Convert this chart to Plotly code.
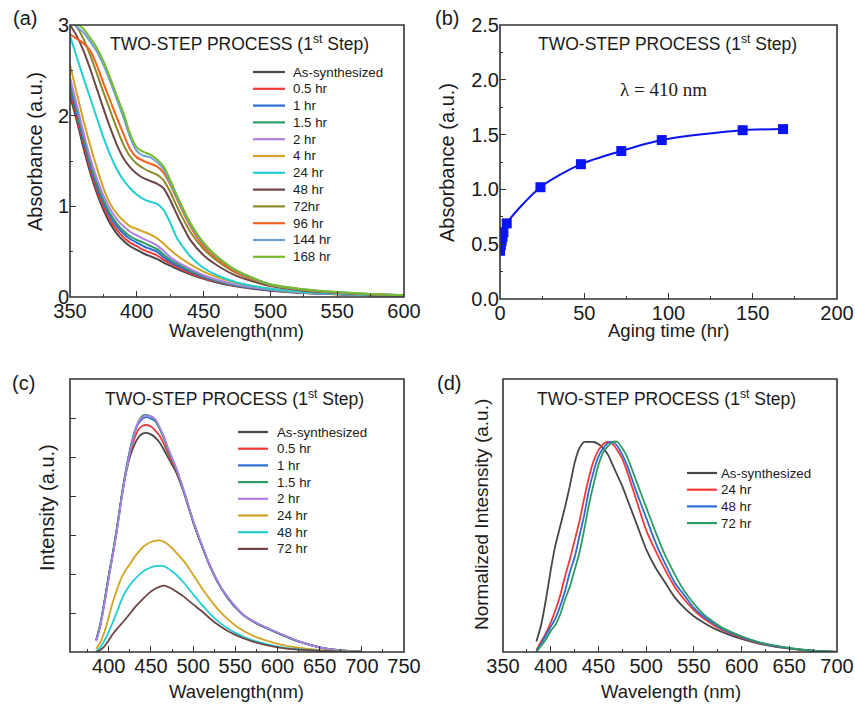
import plotly.graph_objects as go

# ---------------- (a) UV-vis absorbance spectra ----------------
WL_A = [350, 355, 360, 365, 370, 375, 380, 385, 390, 395, 400, 405, 410, 415,
        420, 425, 430, 440, 450, 460, 475, 500, 525, 550, 575, 600]

ABS_LABELS = ["As-synthesized", "0.5 hr", "1 hr", "1.5 hr", "2 hr", "4 hr",
              "24 hr", "48 hr", "72hr", "96 hr", "144 hr", "168 hr"]
ABS_COLORS = ["#474747", "#f03a3a", "#2c6cd6", "#2e9c62", "#ad7fe6", "#d3a322",
              "#22cdd2", "#6e4646", "#8a8a2c", "#f2621f", "#6fa0d8", "#74bd2a"]

abs_as_synth = [2.22, 1.95, 1.65, 1.38, 1.15, 0.96, 0.81, 0.70, 0.62, 0.56, 0.52, 0.48, 0.45, 0.42,
                0.38, 0.345, 0.31, 0.25, 0.20, 0.16, 0.115, 0.07, 0.045, 0.03, 0.02, 0.012]
abs_0p5h = [2.28, 2.00, 1.70, 1.42, 1.19, 1.00, 0.85, 0.74, 0.66, 0.60, 0.56, 0.52, 0.49, 0.46,
            0.41, 0.37, 0.33, 0.265, 0.21, 0.17, 0.12, 0.075, 0.047, 0.031, 0.02, 0.012]
abs_1h = [2.32, 2.04, 1.74, 1.46, 1.23, 1.04, 0.89, 0.78, 0.70, 0.64, 0.60, 0.56, 0.53, 0.50,
          0.44, 0.39, 0.35, 0.28, 0.22, 0.175, 0.125, 0.077, 0.048, 0.032, 0.021, 0.013]
abs_1p5h = [2.36, 2.07, 1.77, 1.49, 1.26, 1.07, 0.92, 0.81, 0.73, 0.67, 0.63, 0.60, 0.565, 0.53,
            0.47, 0.41, 0.37, 0.29, 0.23, 0.18, 0.13, 0.08, 0.05, 0.033, 0.021, 0.013]
abs_2h = [2.42, 2.12, 1.82, 1.54, 1.31, 1.12, 0.97, 0.86, 0.78, 0.72, 0.68, 0.64, 0.61, 0.57,
          0.51, 0.44, 0.39, 0.31, 0.24, 0.19, 0.135, 0.082, 0.051, 0.034, 0.022, 0.014]
abs_4h = [2.56, 2.25, 1.95, 1.68, 1.43, 1.20, 1.03, 0.92, 0.84, 0.78, 0.75, 0.72, 0.69, 0.65,
          0.59, 0.52, 0.46, 0.36, 0.28, 0.22, 0.155, 0.092, 0.056, 0.036, 0.023, 0.015]
abs_24h = [2.88, 2.65, 2.42, 2.20, 1.98, 1.76, 1.57, 1.41, 1.29, 1.20, 1.13, 1.08, 1.05, 1.03,
           0.96, 0.82, 0.65, 0.45, 0.32, 0.24, 0.16, 0.09, 0.055, 0.035, 0.022, 0.014]
abs_48h = [3.00, 2.88, 2.72, 2.52, 2.30, 2.08, 1.87, 1.68, 1.53, 1.43, 1.36, 1.31, 1.28, 1.25,
           1.20, 1.07, 0.91, 0.63, 0.46, 0.35, 0.23, 0.12, 0.07, 0.045, 0.028, 0.017]
abs_72h = [3.05, 2.98, 2.85, 2.67, 2.47, 2.26, 2.06, 1.86, 1.68, 1.55, 1.47, 1.42, 1.38, 1.35,
           1.29, 1.16, 1.00, 0.72, 0.53, 0.40, 0.26, 0.13, 0.078, 0.048, 0.03, 0.018]
abs_96h = [2.90, 2.85, 2.80, 2.72, 2.56, 2.36, 2.17, 1.98, 1.80, 1.63, 1.54, 1.50, 1.47, 1.44,
           1.37, 1.24, 1.08, 0.78, 0.56, 0.42, 0.27, 0.135, 0.08, 0.05, 0.031, 0.019]
abs_144h = [3.10, 2.98, 2.92, 2.82, 2.71, 2.56, 2.38, 2.18, 1.98, 1.76, 1.61, 1.56, 1.54, 1.49,
            1.41, 1.26, 1.10, 0.80, 0.59, 0.44, 0.285, 0.138, 0.083, 0.053, 0.032, 0.02]
abs_168h = [3.15, 3.02, 2.96, 2.86, 2.75, 2.60, 2.42, 2.22, 2.03, 1.80, 1.65, 1.60, 1.57, 1.52,
            1.44, 1.29, 1.12, 0.82, 0.60, 0.45, 0.29, 0.14, 0.085, 0.055, 0.033, 0.02]
ABS_SERIES = [abs_as_synth, abs_0p5h, abs_1h, abs_1p5h, abs_2h, abs_4h,
              abs_24h, abs_48h, abs_72h, abs_96h, abs_144h, abs_168h]

# ---------------- (b) absorbance at 410 nm vs aging time ----------------
AGING_HR = [0, 0.5, 1, 1.5, 2, 4, 24, 48, 72, 96, 144, 168]
ABS_410 = [0.44, 0.49, 0.53, 0.57, 0.61, 0.69, 1.02, 1.23, 1.35, 1.45, 1.54, 1.55]

# ---------------- (c) PL intensity spectra ----------------
WL_C = [385, 390, 395, 400, 405, 410, 415, 420, 425, 430, 435, 440, 445, 450, 455, 460,
        465, 470, 475, 480, 490, 500, 510, 520, 530, 540, 550, 560, 575, 600, 625, 650, 675, 700]
PL_LABELS = ["As-synthesized", "0.5 hr", "1 hr", "1.5 hr", "2 hr", "24 hr", "48 hr", "72 hr"]
PL_COLORS = ["#474747", "#f03a3a", "#2c6cd6", "#2e9c62", "#ad7fe6", "#d3a322", "#22cdd2", "#6e4646"]

pl_as_synth = [0.30, 0.70, 1.30, 1.95, 2.55, 3.20, 3.95, 4.55, 5.00, 5.30, 5.50, 5.60, 5.62, 5.58,
               5.50, 5.38, 5.20, 5.00, 4.80, 4.60, 4.02, 3.33, 2.74, 2.20, 1.76, 1.42, 1.15,
               0.94, 0.73, 0.49, 0.27, 0.12, 0.04, 0.01]
pl_0p5h = [0.30, 0.70, 1.30, 1.95, 2.55, 3.20, 3.95, 4.58, 5.08, 5.45, 5.70, 5.80, 5.82, 5.78,
           5.68, 5.55, 5.35, 5.10, 4.88, 4.66, 4.03, 3.34, 2.75, 2.20, 1.76, 1.42, 1.15,
           0.94, 0.73, 0.49, 0.27, 0.12, 0.04, 0.01]
pl_1h = [0.30, 0.70, 1.30, 1.95, 2.55, 3.20, 3.95, 4.60, 5.15, 5.58, 5.85, 5.98, 6.02, 5.98,
         5.92, 5.74, 5.50, 5.22, 4.96, 4.70, 4.05, 3.35, 2.75, 2.20, 1.76, 1.42, 1.15,
         0.94, 0.74, 0.49, 0.27, 0.12, 0.04, 0.01]
pl_1p5h = [0.30, 0.72, 1.33, 1.98, 2.58, 3.24, 3.98, 4.64, 5.18, 5.62, 5.90, 6.06, 6.08, 6.04,
           5.94, 5.74, 5.50, 5.20, 4.95, 4.70, 4.05, 3.35, 2.75, 2.20, 1.76, 1.42, 1.15,
           0.94, 0.74, 0.49, 0.27, 0.12, 0.04, 0.01]
pl_2h = [0.28, 0.66, 1.25, 1.90, 2.50, 3.15, 3.90, 4.55, 5.12, 5.58, 5.88, 6.02, 6.06, 6.05,
         5.97, 5.78, 5.54, 5.25, 4.98, 4.72, 4.07, 3.37, 2.77, 2.22, 1.78, 1.44, 1.17,
         0.95, 0.75, 0.50, 0.28, 0.12, 0.04, 0.01]
pl_24h = [0.08, 0.25, 0.52, 0.90, 1.30, 1.62, 1.90, 2.10, 2.25, 2.42, 2.56, 2.68, 2.76, 2.82,
          2.85, 2.86, 2.83, 2.76, 2.66, 2.55, 2.30, 1.98, 1.65, 1.35, 1.08, 0.86, 0.68,
          0.54, 0.38, 0.21, 0.11, 0.05, 0.02, 0.005]
pl_48h = [0.02, 0.12, 0.30, 0.52, 0.78, 1.05, 1.33, 1.55, 1.72, 1.85, 1.96, 2.05, 2.12, 2.17,
          2.20, 2.21, 2.20, 2.15, 2.07, 1.98, 1.75, 1.48, 1.22, 0.98, 0.78, 0.62, 0.49,
          0.39, 0.27, 0.14, 0.07, 0.035, 0.015, 0.005]
pl_72h = [0.00, 0.05, 0.15, 0.30, 0.47, 0.60, 0.72, 0.85, 0.98, 1.12, 1.24, 1.35, 1.46, 1.55,
          1.62, 1.67, 1.70, 1.67, 1.62, 1.55, 1.40, 1.22, 1.05, 0.86, 0.69, 0.55, 0.44,
          0.35, 0.24, 0.12, 0.06, 0.03, 0.012, 0.004]
PL_SERIES = [pl_as_synth, pl_0p5h, pl_1h, pl_1p5h, pl_2h, pl_24h, pl_48h, pl_72h]

# ---------------- (d) normalized PL spectra ----------------
WL_D = [385, 390, 395, 400, 405, 410, 415, 420, 425, 430, 435, 440, 445, 450, 455, 460,
        465, 470, 475, 480, 490, 500, 510, 520, 530, 540, 550, 560, 570, 580, 600, 620,
        650, 675, 700]
NPL_LABELS = ["As-synthesized", "24 hr", "48 hr", "72 hr"]
NPL_COLORS = ["#474747", "#f03a3a", "#2c6cd6", "#2e9c62"]

npl_as_synth = [0.05, 0.13, 0.25, 0.39, 0.51, 0.60, 0.69, 0.79, 0.90, 0.97, 1.00, 1.00, 1.00,
                0.99, 0.97, 0.94, 0.89, 0.84, 0.79, 0.73, 0.61, 0.49, 0.40, 0.33, 0.26, 0.21,
                0.17, 0.14, 0.115, 0.095, 0.062, 0.038, 0.016, 0.005, 0.0]
npl_24h = [0.01, 0.05, 0.09, 0.14, 0.20, 0.27, 0.36, 0.44, 0.53, 0.62, 0.73, 0.83, 0.91,
           0.96, 0.99, 1.00, 0.99, 0.96, 0.92, 0.86, 0.72, 0.58, 0.48, 0.39, 0.31, 0.25,
           0.20, 0.16, 0.13, 0.105, 0.068, 0.041, 0.017, 0.006, 0.0]
npl_48h = [0.005, 0.04, 0.08, 0.12, 0.16, 0.22, 0.29, 0.38, 0.45, 0.55, 0.65, 0.77, 0.86,
           0.93, 0.97, 0.995, 1.00, 0.98, 0.94, 0.89, 0.76, 0.64, 0.52, 0.42, 0.33, 0.27,
           0.21, 0.17, 0.138, 0.11, 0.072, 0.043, 0.018, 0.006, 0.0]
npl_72h = [0.0, 0.03, 0.06, 0.10, 0.13, 0.18, 0.25, 0.31, 0.39, 0.47, 0.58, 0.70, 0.80,
           0.89, 0.95, 0.98, 1.00, 1.00, 0.97, 0.93, 0.81, 0.69, 0.57, 0.46, 0.37, 0.29,
           0.23, 0.18, 0.145, 0.115, 0.075, 0.045, 0.019, 0.006, 0.0]
NPL_SERIES = [npl_as_synth, npl_24h, npl_48h, npl_72h]

PANEL_TITLE = "TWO-STEP PROCESS (1<sup>st</sup> Step)"

# ---------------- layout helpers (pixel -> paper) ----------------
W, H = 855, 704
SANS = "Liberation Sans, Arial, sans-serif"
INK = "#1a1a1a"
FRAME = "#333333"


def fx(px):
    return px / W


def fy(py):
    return 1 - py / H


fig = go.Figure()

for name, ys, col in zip(ABS_LABELS, ABS_SERIES, ABS_COLORS):
    fig.add_trace(go.Scatter(x=WL_A, y=ys, mode="lines", name=name, showlegend=False,
                             line=dict(color=col, width=2, shape="spline", smoothing=0.6),
                             xaxis="x", yaxis="y"))

fig.add_trace(go.Scatter(x=AGING_HR, y=ABS_410, mode="lines+markers", showlegend=False,
                         line=dict(color="#0a14f0", width=2, shape="spline", smoothing=0.8),
                         marker=dict(symbol="square", size=10, color="#0a14f0"),
                         xaxis="x2", yaxis="y2"))

for name, ys, col in zip(PL_LABELS, PL_SERIES, PL_COLORS):
    fig.add_trace(go.Scatter(x=WL_C, y=ys, mode="lines", name=name, showlegend=False,
                             line=dict(color=col, width=1.8, shape="spline", smoothing=0.6),
                             xaxis="x3", yaxis="y3"))

for name, ys, col in zip(NPL_LABELS, NPL_SERIES, NPL_COLORS):
    fig.add_trace(go.Scatter(x=WL_D, y=ys, mode="lines", name=name, showlegend=False,
                             line=dict(color=col, width=1.8, shape="spline", smoothing=0.6),
                             xaxis="x4", yaxis="y4"))

axis_common = dict(showline=False, automargin=False,
                   tickcolor=FRAME, ticklen=6, tickwidth=1.3,
                   showgrid=False, zeroline=False,
                   tickfont=dict(family=SANS, size=20, color=INK))
minor_common = dict(ticks="inside", ticklen=3, tickcolor=FRAME, tickwidth=1.2, showgrid=False)

# panel boxes in pixels: (left, right, top, bottom)
BOX_A = (70, 404, 25, 297)
BOX_B = (500, 837, 25, 299)
BOX_C = (70, 404, 379, 652)
BOX_D = (503, 837, 379, 652)


def dom(box):
    l, r, t, b = box
    return [fx(l), fx(r)], [fy(b), fy(t)]


xa, ya = dom(BOX_A)
xb, yb = dom(BOX_B)
xc, yc = dom(BOX_C)
xd, yd = dom(BOX_D)

fig.update_layout(
    width=W, height=H, margin=dict(l=0, r=0, t=0, b=0, pad=0, autoexpand=False),
    paper_bgcolor="white", plot_bgcolor="white", showlegend=False,
    xaxis=dict(domain=xa, anchor="y", range=[350, 600], dtick=50, tick0=0, ticks="inside",
               minor=dict(dtick=25, **minor_common), **axis_common),
    yaxis=dict(domain=ya, anchor="x", range=[0, 3], dtick=1, tick0=0, ticks="inside",
               minor=dict(dtick=0.5, **minor_common), **axis_common),
    xaxis2=dict(domain=xb, anchor="y2", range=[0, 200], dtick=50, tick0=0, ticks="inside",
                minor=dict(dtick=25, **minor_common), **axis_common),
    yaxis2=dict(domain=yb, anchor="x2", range=[0, 2.5], dtick=0.5, tick0=0, tickformat=".1f",
                ticks="inside", minor=dict(dtick=0.25, **minor_common), **axis_common),
    xaxis3=dict(domain=xc, anchor="y3", range=[354, 750], dtick=50, tick0=0, ticks="inside",
                minor=dict(dtick=25, **minor_common), **axis_common),
    yaxis3=dict(domain=yc, anchor="x3", range=[0, 7], tickvals=[1, 2, 3, 4, 5, 6],
                ticks="inside", showticklabels=False, **axis_common),
    xaxis4=dict(domain=xd, anchor="y4", range=[350, 700], dtick=50, tick0=0, ticks="inside",
                minor=dict(dtick=25, **minor_common), **axis_common),
    yaxis4=dict(domain=yd, anchor="x4", range=[0, 1.3], showticklabels=False, ticks="",
                **axis_common),
)

annotations = []
shapes = []

# frame around every panel
for xr, yr in [("x", "y"), ("x2", "y2"), ("x3", "y3"), ("x4", "y4")]:
    shapes.append(dict(type="rect", xref=f"{xr} domain", yref=f"{yr} domain",
                       x0=0, x1=1, y0=0, y1=1, layer="above",
                       line=dict(color=FRAME, width=1.6)))


def text(x, y, s, size, angle=0, family=SANS, xanchor="center"):
    annotations.append(dict(x=fx(x), y=fy(y), xref="paper", yref="paper", text=s,
                            showarrow=False, textangle=angle, xanchor=xanchor,
                            yanchor="middle", font=dict(family=family, size=size, color=INK)))


# panel letters
text(25, 18, "(a)", 20)
text(447, 18, "(b)", 20)
text(23, 383, "(c)", 20)
text(449, 383, "(d)", 20)

# panel titles
text(239, 43, PANEL_TITLE, 17.5)
text(667, 43, PANEL_TITLE, 17.5)
text(234, 398, PANEL_TITLE, 17.5)
text(666, 398, PANEL_TITLE, 17.5)

# axis titles
text(35, 152, "Absorbance (a.u.)", 20, angle=-90)
text(237, 330, "Wavelength(nm)", 18.5)
text(447, 162, "Absorbance (a.u.)", 20, angle=-90)
text(668, 330, "Aging time (hr)", 18.5)
text(47, 508, "Intensity (a.u.)", 20, angle=-90)
text(237, 691, "Wavelength(nm)", 18.5)
text(481, 515, "Normalized Intesnsity (a.u.)", 19, angle=-90)
text(671, 691, "Wavelength (nm)", 18.5)

# wavelength note in (b)
text(663, 90, "λ = 410 nm", 19, family="Liberation Serif, Times New Roman, serif")


def legend(labels, colors, x0, x1, xt, y0, step):
    for i, (lab, col) in enumerate(zip(labels, colors)):
        yy = y0 + i * step
        shapes.append(dict(type="line", xref="paper", yref="paper",
                           x0=fx(x0), x1=fx(x1), y0=fy(yy), y1=fy(yy),
                           line=dict(color=col, width=2.2)))
        text(xt, yy, lab, 13.3, xanchor="left")


legend(ABS_LABELS, ABS_COLORS, 253, 285, 291, 72, 16.8)
legend(PL_LABELS, PL_COLORS, 238, 268, 275, 432, 16.7)
legend(NPL_LABELS, NPL_COLORS, 687, 717, 719, 473, 16.7)

fig.update_layout(annotations=annotations, shapes=shapes)

fig.write_html("out.html")
